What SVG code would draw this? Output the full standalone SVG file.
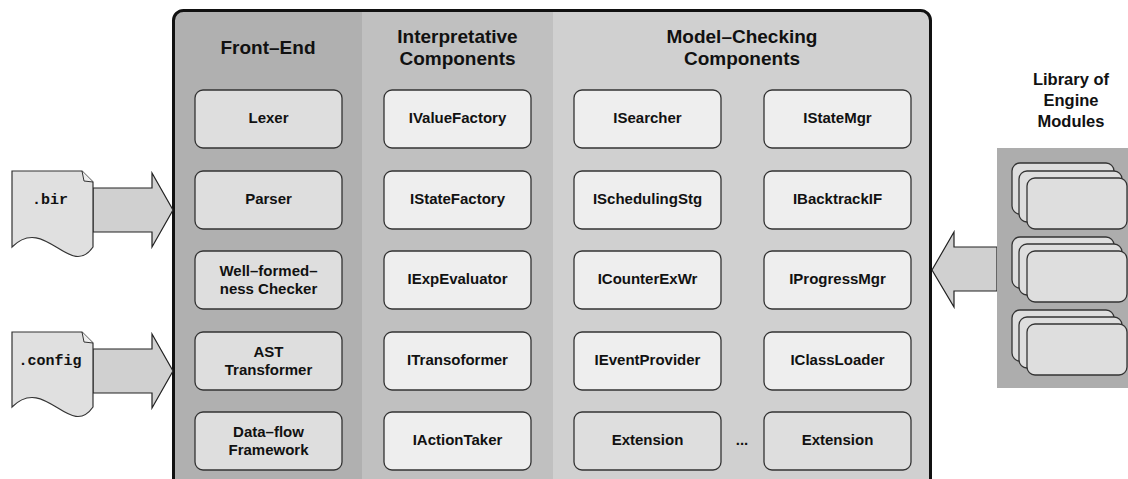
<svg xmlns="http://www.w3.org/2000/svg" width="1128" height="479" viewBox="0 0 1128 479">
  <style>
    .hdr { font-family: "Liberation Sans", Arial, sans-serif; font-weight: bold; font-size: 19px; fill: #111; text-anchor: middle; }
    .lbl { font-family: "Liberation Sans", Arial, sans-serif; font-weight: bold; font-size: 15px; fill: #111; text-anchor: middle; }
    .lib { font-family: "Liberation Sans", Arial, sans-serif; font-weight: bold; font-size: 16.5px; fill: #111; text-anchor: middle; }
    .file { font-family: "Liberation Mono", "Courier New", monospace; font-weight: bold; font-size: 15px; fill: #111; text-anchor: middle; }
    .box { stroke: #333; stroke-width: 1.3; }
    .dark { fill: #dedede; }
    .light { fill: #eeeeee; }
    .card { fill: #dedede; stroke: #333; stroke-width: 1.3; }
    .arrow { fill: #d0d0d0; stroke: #222; stroke-width: 1.2; stroke-linejoin: miter; }
    .doc { fill: #e0e0e0; stroke: #333; stroke-width: 1.2; }
  </style>

  <!-- Engine frame: three column backgrounds with rounded top corners -->
  <g id="engine-frame">
    <path d="M173.5,20.5 A10,10 0 0 1 183.5,10.5 L362,10.5 L362,479 L173.5,479 Z" fill="#b0b0b0"/>
    <rect x="362" y="10.5" width="191" height="468.5" fill="#c0c0c0"/>
    <path d="M553,10.5 L920.5,10.5 A10,10 0 0 1 930.5,20.5 L930.5,479 L553,479 Z" fill="#d0d0d0"/>
    <path d="M173.5,490 L173.5,20.5 A10,10 0 0 1 183.5,10.5 L920.5,10.5 A10,10 0 0 1 930.5,20.5 L930.5,490" fill="none" stroke="#111" stroke-width="3"/>
    <text class="hdr" x="268" y="54">Front–End</text>
    <text class="hdr" x="457.5" y="42.5">Interpretative</text>
    <text class="hdr" x="457.5" y="65">Components</text>
    <text class="hdr" x="742" y="43">Model–Checking</text>
    <text class="hdr" x="742" y="65">Components</text>
  </g>

  <!-- Front-End components -->
  <g id="lexer"><rect class="box dark" x="195" y="90" width="147" height="58" rx="8"/><text class="lbl" x="268.5" y="123">Lexer</text></g>
  <g id="parser"><rect class="box dark" x="195" y="171" width="147" height="58" rx="8"/><text class="lbl" x="268.5" y="204">Parser</text></g>
  <g id="wellformedness"><rect class="box dark" x="195" y="251" width="147" height="58" rx="8"/><text class="lbl" x="268.5" y="276">Well–formed–</text><text class="lbl" x="268.5" y="294">ness Checker</text></g>
  <g id="ast-transformer"><rect class="box dark" x="195" y="332" width="147" height="58" rx="8"/><text class="lbl" x="268.5" y="357">AST</text><text class="lbl" x="268.5" y="375">Transformer</text></g>
  <g id="dataflow"><rect class="box dark" x="195" y="412" width="147" height="58" rx="8"/><text class="lbl" x="268.5" y="437">Data–flow</text><text class="lbl" x="268.5" y="455">Framework</text></g>

  <!-- Interpretative components -->
  <g id="ivaluefactory"><rect class="box light" x="384" y="90" width="147" height="58" rx="8"/><text class="lbl" x="457.5" y="123">IValueFactory</text></g>
  <g id="istatefactory"><rect class="box light" x="384" y="171" width="147" height="58" rx="8"/><text class="lbl" x="457.5" y="204">IStateFactory</text></g>
  <g id="iexpevaluator"><rect class="box light" x="384" y="251" width="147" height="58" rx="8"/><text class="lbl" x="457.5" y="284">IExpEvaluator</text></g>
  <g id="itransoformer"><rect class="box light" x="384" y="332" width="147" height="58" rx="8"/><text class="lbl" x="457.5" y="365">ITransoformer</text></g>
  <g id="iactiontaker"><rect class="box light" x="384" y="412" width="147" height="58" rx="8"/><text class="lbl" x="457.5" y="445">IActionTaker</text></g>

  <!-- Model-checking components -->
  <g id="isearcher"><rect class="box light" x="574" y="90" width="147" height="58" rx="8"/><text class="lbl" x="647.5" y="123">ISearcher</text></g>
  <g id="istatemgr"><rect class="box light" x="764" y="90" width="147" height="58" rx="8"/><text class="lbl" x="837.5" y="123">IStateMgr</text></g>
  <g id="ischedulingstg"><rect class="box light" x="574" y="171" width="147" height="58" rx="8"/><text class="lbl" x="647.5" y="204">ISchedulingStg</text></g>
  <g id="ibacktrackif"><rect class="box light" x="764" y="171" width="147" height="58" rx="8"/><text class="lbl" x="837.5" y="204">IBacktrackIF</text></g>
  <g id="icounterexwr"><rect class="box light" x="574" y="251" width="147" height="58" rx="8"/><text class="lbl" x="647.5" y="284">ICounterExWr</text></g>
  <g id="iprogressmgr"><rect class="box light" x="764" y="251" width="147" height="58" rx="8"/><text class="lbl" x="837.5" y="284">IProgressMgr</text></g>
  <g id="ieventprovider"><rect class="box light" x="574" y="332" width="147" height="58" rx="8"/><text class="lbl" x="647.5" y="365">IEventProvider</text></g>
  <g id="iclassloader"><rect class="box light" x="764" y="332" width="147" height="58" rx="8"/><text class="lbl" x="837.5" y="365">IClassLoader</text></g>
  <g id="extension-1"><rect class="box dark" x="574" y="412" width="147" height="58" rx="8"/><text class="lbl" x="647.5" y="445">Extension</text></g>
  <g id="extension-n"><rect class="box dark" x="764" y="412" width="147" height="58" rx="8"/><text class="lbl" x="837.5" y="445">Extension</text></g>
  <text class="lbl" x="742" y="445">...</text>

  <!-- Connectors: block arrows feeding the engine -->
  <g id="connectors">
    <path class="arrow" d="M93,188 L152,188 L152,173 L173,210 L152,247 L152,232 L93,232 Z"/>
    <path class="arrow" d="M93,349 L152,349 L152,334 L173,371 L152,408 L152,393 L93,393 Z"/>
    <path class="arrow" d="M997,247 L954,247 L954,232 L932,270 L954,307 L954,291 L997,291 Z"/>
  </g>

  <!-- Input files -->
  <g id="bir-file">
    <path class="doc" d="M12,171 L82,171 L93,182 L93,247 C70,280 45,214 12,247 Z"/>
    <path d="M82,171 L84,181 L93,182" fill="#eeeeee" stroke="#333" stroke-width="1"/>
    <text class="file" x="50" y="204">.bir</text>
  </g>
  <g id="config-file">
    <path class="doc" d="M12,332 L82,332 L93,343 L93,407 C70,440 45,374 12,407 Z"/>
    <path d="M82,332 L84,342 L93,343" fill="#eeeeee" stroke="#333" stroke-width="1"/>
    <text class="file" x="50" y="365">.config</text>
  </g>

  <!-- Library of engine modules -->
  <g id="module-library">
    <text class="lib" x="1071" y="85">Library of</text>
    <text class="lib" x="1071" y="106">Engine</text>
    <text class="lib" x="1071" y="127">Modules</text>
    <rect x="997" y="148" width="131" height="240" fill="#adadad"/>
    <rect class="card" x="1012" y="163" width="102" height="51" rx="8"/>
    <rect class="card" x="1019" y="171" width="103" height="51" rx="8"/>
    <rect class="card" x="1027" y="178" width="100" height="51" rx="8"/>
    <rect class="card" x="1012" y="237" width="102" height="51" rx="8"/>
    <rect class="card" x="1019" y="244" width="103" height="51" rx="8"/>
    <rect class="card" x="1027" y="251" width="100" height="51" rx="8"/>
    <rect class="card" x="1012" y="310" width="102" height="51" rx="8"/>
    <rect class="card" x="1019" y="317" width="103" height="51" rx="8"/>
    <rect class="card" x="1027" y="324" width="100" height="51" rx="8"/>
  </g>
</svg>
